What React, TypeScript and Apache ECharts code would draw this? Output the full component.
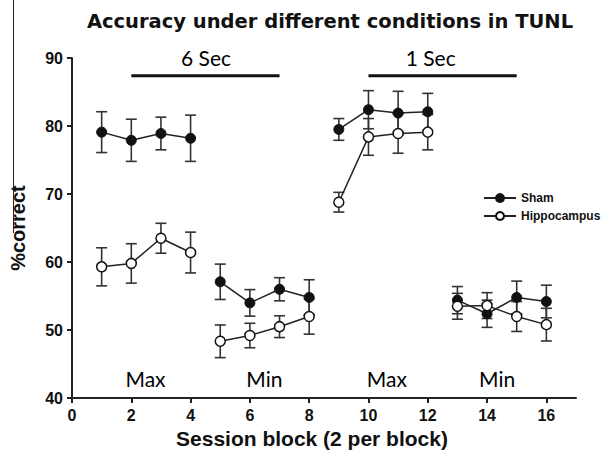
import React, { useEffect, useRef } from "react";
import * as echarts from "echarts";

// ---- data ----
const sessions = [1, 2, 3, 4, 5, 6, 7, 8, 9, 10, 11, 12, 13, 14, 15, 16];
const shamMean = [79.1, 77.9, 78.9, 78.2, 57.1, 54.0, 56.0, 54.8, 79.5, 82.4, 81.9, 82.1, 54.4, 52.4, 54.8, 54.2];
const shamSem = [3.0, 3.1, 2.4, 3.4, 2.6, 1.95, 1.7, 2.6, 1.6, 2.8, 3.2, 2.7, 2.0, 2.0, 2.4, 2.4];
const hippMean = [59.3, 59.8, 63.5, 61.4, 48.35, 49.2, 50.5, 52.0, 68.8, 78.4, 78.9, 79.1, 53.5, 53.6, 52.0, 50.8];
const hippSem = [2.8, 2.9, 2.2, 3.0, 2.4, 1.8, 1.6, 2.6, 1.45, 2.7, 2.9, 2.6, 1.9, 1.9, 2.2, 2.4];
const blockBreaks = [4, 8, 12]; // line is interrupted after these sessions

const xTicks = [0, 2, 4, 6, 8, 10, 12, 14, 16];

const periodLabels = ["6 Sec", "1 Sec"];
const periodStart = [2, 10];
const periodEnd = [7, 15];
const periodLevel = 87.4;
const periodLabelX = [4.52, 12.1];
const periodLabelY = 90.1;

const phaseLabels = ["Max", "Min", "Max", "Min"];
const phaseX = [2.48, 6.49, 10.62, 14.34];
const phaseY = 42.85;

const seriesNames = ["Sham", "Hippocampus"];

function lineData(means: number[]) {
  const out: any[] = [];
  sessions.forEach((s, i) => {
    out.push([s, means[i]]);
    if (blockBreaks.includes(s)) out.push([s + 0.5, "-"]);
  });
  return out;
}

function errData(means: number[], sems: number[]) {
  return sessions.map((s, i) => [s, means[i], sems[i]]);
}

const errRender = (params: any, api: any) => {
  const x = api.value(0);
  const m = api.value(1);
  const e = api.value(2);
  const top = api.coord([x, m + e]);
  const bot = api.coord([x, m - e]);
  const hw = 5.5;
  const st = { stroke: "#333", lineWidth: 1.6 };
  return {
    type: "group",
    children: [
      { type: "line", shape: { x1: top[0], y1: top[1], x2: bot[0], y2: bot[1] }, style: st },
      { type: "line", shape: { x1: top[0] - hw, y1: top[1], x2: top[0] + hw, y2: top[1] }, style: st },
      { type: "line", shape: { x1: bot[0] - hw, y1: bot[1], x2: bot[0] + hw, y2: bot[1] }, style: st },
    ],
  };
};

const periodRender = (params: any, api: any) => {
  const p1 = api.coord([api.value(0), api.value(2)]);
  const p2 = api.coord([api.value(1), api.value(2)]);
  return {
    type: "line",
    shape: { x1: p1[0], y1: p1[1], x2: p2[0], y2: p2[1] },
    style: { stroke: "#111", lineWidth: 3 },
  };
};

export default function App() {
  const ref = useRef<HTMLDivElement>(null);
  useEffect(() => {
    if (!ref.current) return;
    const chart = echarts.init(ref.current, null, { renderer: "svg" });
    const axisFont = "'Liberation Sans', Arial, sans-serif";
    const textSeriesData = [
      ...periodLabels.map((t, i) => [periodLabelX[i], periodLabelY, t]),
      ...phaseLabels.map((t, i) => [phaseX[i], phaseY, t]),
    ];
    chart.setOption({
      animation: false,
      backgroundColor: "#fff",
      title: {
        text: "Accuracy under different conditions in TUNL",
        left: 330,
        top: 11,
        padding: 0,
        textAlign: "center",
        textStyle: { fontFamily: "'DejaVu Sans', sans-serif", fontWeight: "bold", fontSize: 19.5, color: "#111" },
      },
      legend: {
        data: seriesNames,
        orient: "vertical",
        left: 483,
        top: 192,
        itemWidth: 32,
        itemHeight: 10,
        itemGap: 6,
        padding: 0,
        textStyle: { fontFamily: axisFont, fontWeight: "bold", fontSize: 12, color: "#111" },
      },
      grid: { left: 72, right: 33, top: 58, bottom: 54 },
      xAxis: {
        type: "value",
        min: 0,
        max: 17,
        interval: 2,
        name: "Session block (2 per block)",
        nameLocation: "middle",
        nameGap: 28,
        nameTextStyle: { fontFamily: axisFont, fontWeight: "bold", fontSize: 21, color: "#111", padding: [0, 24, 0, 0] },
        axisLine: { show: true, lineStyle: { color: "#222", width: 2 } },
        axisTick: { show: true, length: 5, customValues: xTicks, lineStyle: { color: "#222", width: 2 } },
        axisLabel: { customValues: xTicks, fontFamily: axisFont, fontWeight: "bold", fontSize: 16, color: "#111", margin: 9 },
        splitLine: { show: false },
      },
      yAxis: {
        type: "value",
        min: 40,
        max: 90,
        interval: 10,
        name: "%correct",
        nameLocation: "middle",
        nameGap: 44,
        nameTextStyle: { fontFamily: axisFont, fontWeight: "bold", fontSize: 20, color: "#111" },
        axisLine: { show: true, lineStyle: { color: "#222", width: 2 } },
        axisTick: { show: true, length: 5, lineStyle: { color: "#222", width: 2 } },
        axisLabel: { fontFamily: axisFont, fontWeight: "bold", fontSize: 16, color: "#111", margin: 9 },
        splitLine: { show: false },
      },
      graphic: [
        { type: "line", shape: { x1: 13.5, y1: 0, x2: 13.5, y2: 233 }, style: { stroke: "#222", lineWidth: 1 } },
      ],
      series: [
        {
          type: "custom",
          name: "periods",
          renderItem: periodRender,
          data: periodStart.map((s, i) => [s, periodEnd[i], periodLevel]),
          encode: { x: [0, 1], y: 2 },
          clip: false,
          silent: true,
        },
        {
          type: "custom",
          name: "Sham SEM",
          renderItem: errRender,
          data: errData(shamMean, shamSem),
          encode: { x: 0, y: 1 },
          z: 1,
          silent: true,
        },
        {
          type: "custom",
          name: "Hippocampus SEM",
          renderItem: errRender,
          data: errData(hippMean, hippSem),
          encode: { x: 0, y: 1 },
          z: 1,
          silent: true,
        },
        {
          type: "line",
          name: seriesNames[0],
          data: lineData(shamMean),
          symbol: "circle",
          symbolSize: 10,
          showAllSymbol: true,
          connectNulls: false,
          lineStyle: { color: "#222", width: 1.5 },
          itemStyle: { color: "#111", borderColor: "#111", borderWidth: 1 },
          z: 3,
        },
        {
          type: "line",
          name: seriesNames[1],
          data: lineData(hippMean),
          symbol: "circle",
          symbolSize: 10,
          showAllSymbol: true,
          connectNulls: false,
          lineStyle: { color: "#222", width: 1.5 },
          itemStyle: { color: "#fff", borderColor: "#111", borderWidth: 1.5 },
          z: 4,
        },
        {
          type: "scatter",
          name: "annotations",
          data: textSeriesData,
          symbolSize: 0,
          clip: false,
          silent: true,
          itemStyle: { opacity: 1 },
          label: {
            show: true,
            position: "inside",
            formatter: (p: any) => p.value[2],
            fontFamily: "Lato, 'Open Sans', sans-serif",
            fontSize: 21,
            color: "#000",
          },
          z: 5,
        },
      ],
    });
    return () => chart.dispose();
  }, []);
  return <div ref={ref} style={{ position: "absolute", left: 0, top: 0, width: 609, height: 454 }} />;
}
